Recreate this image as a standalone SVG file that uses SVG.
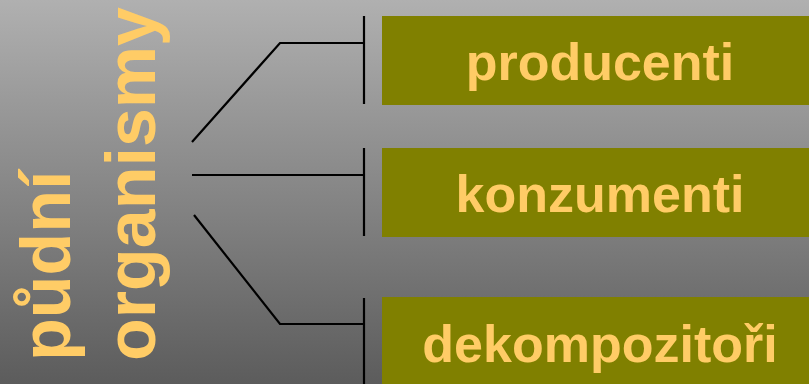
<svg xmlns="http://www.w3.org/2000/svg" width="809" height="384" viewBox="0 0 809 384">
  <defs>
    <linearGradient id="bg" x1="0" y1="0" x2="0" y2="1">
      <stop offset="0" stop-color="#b0b0b0"/>
      <stop offset="1" stop-color="#5c5c5c"/>
    </linearGradient>
    <style>
      .lbl { font-family: "Liberation Sans", Arial, sans-serif; font-weight: bold; fill: #ffcc66; }
      .box { fill: #808000; }
      .con { fill: none; stroke: #000000; stroke-width: 2.2; }
    </style>
  </defs>
  <rect x="0" y="0" width="809" height="384" fill="url(#bg)"/>
  <g id="root">
    <text class="lbl" font-size="70" transform="translate(70,361) rotate(-90)">půdní</text>
    <text class="lbl" font-size="70" transform="translate(155,361) rotate(-90)">organismy</text>
  </g>
  <g id="connectors">
    <polyline class="con" points="192,142 280,43 364,43"/>
    <line class="con" x1="364" y1="16" x2="364" y2="104"/>
    <polyline class="con" points="192,175 364,175"/>
    <line class="con" x1="364" y1="148" x2="364" y2="236"/>
    <polyline class="con" points="194,215 280,324 364,324"/>
    <line class="con" x1="364" y1="298" x2="364" y2="384"/>
  </g>
  <g id="producenti">
    <rect class="box" x="382" y="16" width="436" height="89"/>
    <text class="lbl" font-size="52" x="600" y="80" text-anchor="middle">producenti</text>
  </g>
  <g id="konzumenti">
    <rect class="box" x="382" y="148" width="436" height="89"/>
    <text class="lbl" font-size="52" x="600" y="212" text-anchor="middle">konzumenti</text>
  </g>
  <g id="dekompozitori">
    <rect class="box" x="382" y="297" width="436" height="91"/>
    <text class="lbl" font-size="52" x="600" y="362" text-anchor="middle">dekompozitoři</text>
  </g>
</svg>
